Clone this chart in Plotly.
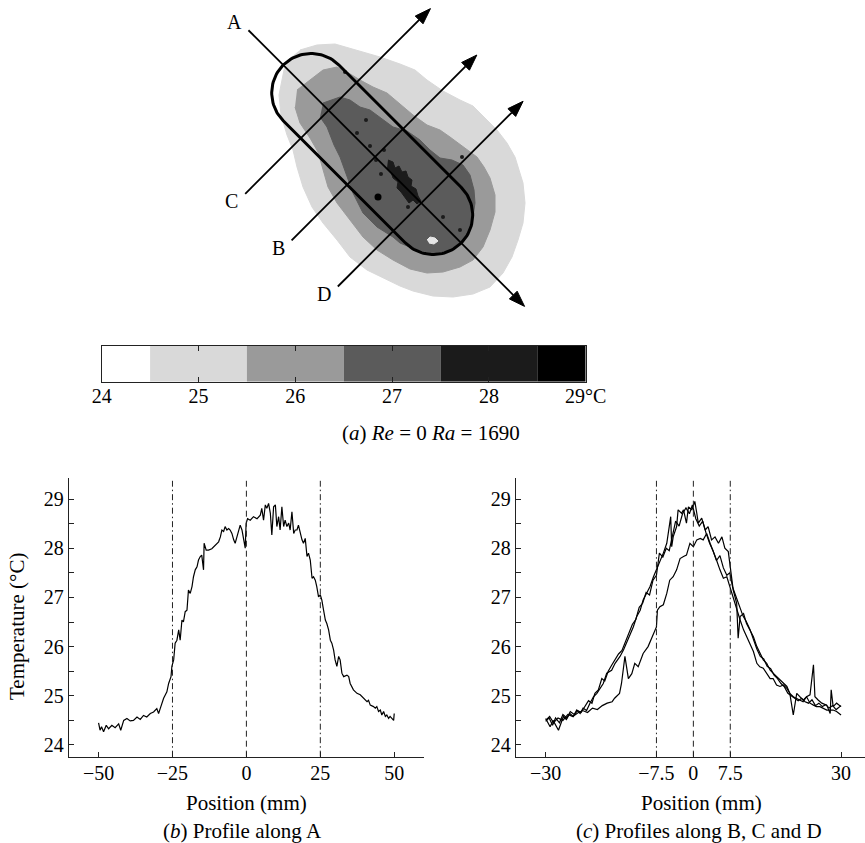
import numpy as np
import plotly.graph_objects as go

W, H = 865, 843
SERIF = "Liberation Serif, Times New Roman, serif"

# ---------------- data ----------------
# colour scale of the temperature map (deg C)
COLORBAR_LEVELS = [24, 24.5, 25.5, 26.5, 27.5, 28.5, 29]
COLORBAR_COLORS = ["#ffffff", "#d9d9d9", "#9a9a9a", "#5b5b5b", "#1b1b1b", "#000000"]
COLORBAR_TICKS = [24, 25, 26, 27, 28, 29]
COLORBAR_TICKTEXT = ["24", "25", "26", "27", "28", "29°C"]

# temperature-map level outlines (map units, y pointing down)
LEVEL25_X = [300, 317, 335, 360, 380, 400, 415, 427, 443, 460, 473, 484, 497, 507, 515, 519, 523, 525,
             523, 518, 512, 503, 490, 473, 453, 433, 413, 400, 387, 367, 350, 337, 323, 312, 303, 297,
             293, 287, 281, 279, 284, 290]
LEVEL25_Y = [50, 45, 44, 51, 57, 64, 70, 80, 91, 100, 106, 117, 130, 143, 157, 170, 183, 203,
             223, 240, 257, 273, 287, 294, 297, 296, 291, 286, 280, 270, 257, 240, 223, 207, 187, 167,
             150, 135, 115, 95, 70, 58]
LEVEL26_X = [297, 310, 323, 337, 347, 360, 373, 387, 400, 413, 427, 440, 450, 463, 477, 484, 490, 495,
             495, 490, 483, 473, 460, 443, 427, 410, 393, 377, 363, 350, 337, 328, 323, 318, 310, 300, 295]
LEVEL26_Y = [90, 80, 70, 67, 72, 80, 87, 93, 104, 115, 125, 130, 137, 147, 157, 167, 178, 195,
             212, 230, 247, 260, 267, 272, 273, 269, 260, 250, 237, 220, 203, 187, 170, 152, 138, 123, 107]
LEVEL27_X = [323, 340, 350, 360, 370, 380, 393, 407, 420, 430, 440, 452, 463, 470, 474, 475, 472, 463,
             450, 433, 417, 400, 393, 377, 363, 353, 347, 340, 334, 327, 320]
LEVEL27_Y = [103, 97, 100, 107, 110, 117, 127, 131, 140, 150, 158, 160, 165, 175, 190, 203, 223, 240,
             250, 253, 250, 243, 237, 227, 213, 193, 177, 157, 145, 127, 117]
LEVEL28_X = [388, 393, 395, 399, 402, 406, 408, 412, 411, 416, 418, 421, 417, 413, 409, 405, 401, 397,
             398, 393, 391, 387]
LEVEL28_Y = [160, 162, 168, 166, 172, 171, 177, 180, 186, 189, 196, 201, 204, 200, 203, 197, 192, 188,
             182, 178, 172, 168]
COOL_SPOT_X = [427, 430, 435, 438, 434, 429]
COOL_SPOT_Y = [240, 237, 238, 241, 244, 243]
HOT_SPECKS_X = [357, 370, 345, 462, 460, 443, 408, 384, 366, 381, 376]
HOT_SPECKS_Y = [133, 146, 72, 157, 230, 217, 207, 150, 120, 174, 160]
HOT_DOT_X = [378]
HOT_DOT_Y = [197]

# heater (stadium) and measurement lines, map units
HEATER_CENTER = (372.2, 154.0)
HEATER_HALF_LENGTH = 86.4     # centre to cap centre
HEATER_RADIUS = 39.4
AXIS_ANGLE_DEG = 45.0         # direction of line A (down-right)
LINE_A_RANGE = (-175.0, 215.5)
CROSS_LINES = {"C": -61.6, "B": 4.0, "D": 69.4}   # position along A
CROSS_RANGE = (-118.0, 144.0)

# (b) profile along A
PROFILE_A_X = [-50.0, -49.5, -49.0, -48.3, -47.4, -46.6, -45.5, -44.4, -43.2, -42.5, -41.5, -40.4,
               -39.3, -38.2, -37.0, -35.9, -34.8, -33.7, -32.5, -31.4, -30.3, -29.7, -29.1, -28.0,
               -26.9, -26.3, -25.5, -25.2, -24.6, -24.1, -23.5, -22.9, -22.4, -21.8, -21.3, -20.7,
               -20.1, -19.6, -19.0, -18.4, -17.9, -17.3, -16.7, -16.2, -15.6, -15.1, -14.5, -14.3,
               -13.6, -12.8, -11.7, -10.5, -9.4, -8.8, -8.3, -7.7, -7.2, -6.6, -6.0, -5.5, -4.9,
               -4.3, -3.8, -3.2, -2.6, -2.1, -1.5, -1.0, -0.4, -0.1, 0.4, 1.3, 2.4, 3.6, 4.7, 5.2,
               5.8, 6.4, 6.9, 7.5, 8.1, 8.6, 9.2, 9.8, 10.3, 10.9, 11.4, 12.0, 12.6, 13.1, 13.7,
               14.3, 14.8, 15.4, 16.0, 16.5, 17.1, 17.6, 18.2, 18.8, 19.3, 19.9, 20.5, 21.0, 21.6,
               22.2, 22.7, 23.3, 23.8, 24.4, 25.0, 25.5, 26.1, 26.7, 27.2, 27.8, 28.4, 28.9, 29.5,
               30.0, 30.6, 31.2, 31.7, 32.3, 32.9, 34.0, 34.6, 35.1, 36.2, 37.4, 38.5, 39.6, 40.8,
               41.3, 41.9, 43.0, 43.6, 44.1, 44.7, 45.3, 45.8, 46.4, 47.0, 47.5, 48.1, 48.6, 49.2,
               49.8, 50.0]
PROFILE_A_T = [24.45, 24.30, 24.37, 24.27, 24.40, 24.33, 24.40, 24.35, 24.43, 24.30, 24.50, 24.54,
               24.49, 24.50, 24.57, 24.52, 24.60, 24.57, 24.64, 24.67, 24.74, 24.64, 24.75, 24.95,
               25.08, 25.25, 25.39, 25.60, 25.73, 26.07, 26.13, 26.34, 26.13, 26.54, 26.50, 26.71,
               26.74, 27.15, 27.08, 27.22, 27.42, 27.56, 27.62, 27.76, 27.83, 27.86, 27.56, 28.10,
               27.96, 27.96, 27.99, 28.06, 28.13, 28.23, 28.37, 28.34, 28.44, 28.37, 28.40, 28.37, 28.30,
               28.17, 28.10, 28.23, 28.40, 28.47, 28.37, 28.17, 28.00, 28.50, 28.60, 28.57, 28.64, 28.60, 28.67, 28.81,
               28.57, 28.88, 28.81, 28.91, 28.71, 28.27, 28.84, 28.88, 28.44, 28.64, 28.37, 28.84, 28.44, 28.57, 28.44,
               28.51, 28.37, 28.74, 28.30, 28.37, 28.37, 28.47, 28.30, 28.17, 28.10, 28.20, 27.83, 27.90, 27.76,
               27.39, 27.42, 27.35, 27.22, 27.01, 27.05, 26.95, 26.74, 26.54, 26.47, 26.34, 26.13, 26.07, 25.93,
               25.73, 25.60, 25.80, 25.73, 25.46, 25.39, 25.42, 25.39, 25.25, 25.12, 25.05, 25.02, 24.95, 24.88,
               24.91, 24.81, 24.78, 24.75, 24.78, 24.68, 24.71, 24.61, 24.68, 24.58, 24.61, 24.54, 24.58, 24.54,
               24.50, 24.64]

# (c) profiles along B, C and D
PROFILE_B_X = [-30.0, -29.5, -29.1, -28.5, -27.4, -26.4, -25.8, -25.1, -24.4, -23.7, -23.0, -22.4,
               -21.7, -21.0, -20.3, -19.6, -19.0, -18.3, -17.6, -16.6, -15.9, -14.9, -14.2, -13.6,
               -12.9, -12.2, -11.5, -10.8, -10.2, -9.5, -8.8, -8.1, -7.5, -6.8, -6.1, -5.4, -4.6,
               -4.4, -4.1, -3.4, -3.1, -2.4, -2.0, -1.4, -1.0, -0.3, 0.3, 0.7, 1.0, 1.7, 2.4, 3.0,
               3.7, 4.4, 5.1, 5.8, 6.4, 7.1, 7.4, 8.1, 8.8, 9.1, 9.5, 10.2, 10.8, 11.5, 12.2, 12.9,
               13.5, 14.2, 14.9, 15.6, 16.2, 16.9, 17.6, 18.3, 19.0, 19.6, 20.3, 21.0, 21.7, 22.3,
               23.0, 23.7, 24.4, 24.7, 25.4, 26.1, 27.1, 27.8, 28.0, 28.4, 29.1, 30.0]
PROFILE_B_T = [24.54, 24.45, 24.37, 24.50, 24.30, 24.58, 24.52, 24.64, 24.58, 24.71, 24.64, 24.75,
               24.70, 24.85, 24.98, 25.05, 25.15, 25.25, 25.46, 25.52, 25.66, 25.80, 25.93, 26.07,
               26.27, 26.40, 26.61, 26.74, 26.95, 27.08, 27.22, 27.42, 27.56, 27.76, 27.90, 28.10, 28.64,
               28.03, 28.23, 28.44, 28.78, 28.71, 28.78, 28.51, 28.84, 28.78, 28.95, 28.71, 28.51, 28.61, 28.37, 28.44,
               28.17, 28.23, 28.10, 28.23, 28.00, 27.93, 27.69, 27.15, 26.88, 26.17, 26.61, 26.67, 26.47, 26.34, 26.20, 26.00,
               25.86, 25.73, 25.66, 25.52, 25.46, 25.39, 25.32, 25.25, 25.19, 25.05, 24.61, 25.05, 24.98, 24.91,
               24.98, 25.02, 25.63, 24.98, 24.91, 24.85, 24.81, 24.64, 25.12, 24.78, 24.85, 24.78]
PROFILE_C_X = [-30.0, -29.3, -28.6, -28.0, -27.2, -26.5, -25.7, -25.0, -24.2, -23.5, -22.8, -22.0,
               -21.3, -20.6, -20.0, -19.3, -18.6, -18.0, -17.3, -16.6, -15.9, -15.2, -14.5, -13.8,
               -13.1, -12.4, -11.7, -11.0, -10.3, -9.6, -8.9, -8.2, -7.5, -6.9, -6.2, -5.5, -4.9,
               -4.2, -3.6, -2.9, -2.2, -1.5, -0.8, -0.2, 0.5, 1.2, 1.9, 2.6, 3.3, 4.0, 4.7, 5.4,
               6.1, 6.8, 7.4, 8.0, 8.7, 9.4, 10.1, 10.8, 11.5, 12.2, 12.9, 13.6, 14.3, 15.0, 15.7,
               16.4, 17.1, 17.8, 18.5, 19.2, 19.9, 20.6, 21.3, 22.0, 22.7, 23.4, 24.1, 24.8, 25.5,
               26.2, 26.9, 27.6, 28.3, 29.0, 30.0]
PROFILE_C_T = [24.48, 24.55, 24.40, 24.55, 24.45, 24.62, 24.55, 24.68, 24.62, 24.70, 24.66, 24.80,
               24.90, 24.85, 25.05, 25.12, 25.35, 25.30, 25.50, 25.62, 25.75, 25.85, 25.92, 26.10,
               26.25, 26.45, 26.55, 26.80, 26.88, 27.10, 27.05, 27.35, 27.45, 27.90, 27.82, 28.00, 27.95,
               28.30, 28.55, 28.45, 28.70, 28.82, 28.70, 28.88, 28.60, 28.45, 28.55, 28.30, 28.10, 27.95, 27.75, 27.85,
               27.60, 27.45, 27.50, 27.20, 27.00, 26.80, 26.62, 26.50, 26.35, 26.15, 25.95, 25.80, 25.75, 25.60, 25.55,
               25.42, 25.35, 25.25, 25.18, 25.05, 25.00, 24.95, 24.90, 24.95, 24.88, 24.85, 24.92, 24.80, 24.85,
               24.78, 24.82, 24.75, 24.80, 24.72, 24.80]
PROFILE_D_X = [-30.0, -29.2, -28.4, -27.5, -26.5, -25.5, -24.5, -23.5, -22.5, -21.5, -20.5, -19.5,
               -18.5, -17.5, -16.5, -16.0, -15.0, -14.6, -13.9, -13.2, -12.5, -11.9, -11.2, -10.2,
               -9.2, -8.1, -7.5, -7.3, -6.8, -6.1, -5.4, -4.8, -4.1, -3.4, -2.7, -2.0, -1.4, -0.7,
               0.0, 0.7, 1.4, 2.0, 2.7, 3.4, 4.1, 4.7, 5.4, 6.1, 6.8, 7.4, 8.1, 8.8, 9.5, 10.2, 10.8,
               11.5, 12.2, 12.9, 13.5, 14.2, 14.9, 15.6, 16.2, 16.9, 17.6, 18.3, 19.0, 19.6, 20.3,
               21.0, 21.7, 22.3, 23.0, 23.7, 24.4, 25.0, 25.7, 26.4, 27.1, 27.8, 28.4, 29.1, 30.0]
PROFILE_D_T = [24.50, 24.58, 24.45, 24.55, 24.50, 24.62, 24.58, 24.65, 24.70, 24.66, 24.75, 24.72,
               24.80, 24.85, 24.88, 24.95, 25.05, 25.25, 25.80, 25.35, 25.45, 25.66, 25.59, 25.86,
               26.00, 26.27, 26.40, 26.74, 26.81, 26.85, 27.08, 27.35, 27.42, 27.56, 27.79, 27.83, 27.86, 28.10,
               28.03, 28.17, 28.20, 28.17, 28.30, 28.10, 27.93, 27.76, 27.56, 27.39, 27.42, 27.22, 27.01, 26.74, 26.54, 26.34, 26.20,
               26.07, 25.90, 25.66, 25.59, 25.56, 25.46, 25.35, 25.35, 25.22, 25.19, 25.22, 25.15, 25.05, 24.98,
               24.95, 24.91, 24.88, 24.98, 24.85, 24.81, 24.78, 24.78, 24.75, 24.71, 24.71, 24.71, 24.68, 24.61]

TICKS_A = [-50, -25, 0, 25, 50]
TICKS_BCD = [-30, -7.5, 0, 7.5, 30]
TICKTEXT_BCD = ["\u221230", "\u22127.5", "0", "7.5", "30"]
TICKTEXT_A = ["\u221250", "\u221225", "0", "25", "50"]
GUIDES_A = [(-25, "dashdot"), (0, "dash"), (25, "dashdot")]
GUIDES_BCD = [(-7.5, "dashdot"), (0, "dash"), (7.5, "dashdot")]
T_TICKS = [24, 25, 26, 27, 28, 29]

# ---------------- layout helpers ----------------
def pxx(x):
    return x / W


def pxy(y):
    return 1 - y / H


Y_DOM = [pxy(756.7), pxy(477.7)]
Y_RANGE = [23.762, 29.433]
GUIDE_TOP = 29.37
DASH = {"dash": "6px,4px", "dashdot": "6px,3px,1.5px,3px"}

fig = go.Figure()

# ---------------- map ----------------
MAPX, MAPY = "x3", "y3"
for xs, ys, col in [(LEVEL25_X, LEVEL25_Y, COLORBAR_COLORS[1]),
                    (LEVEL26_X, LEVEL26_Y, COLORBAR_COLORS[2]),
                    (LEVEL27_X, LEVEL27_Y, COLORBAR_COLORS[3]),
                    (LEVEL28_X, LEVEL28_Y, COLORBAR_COLORS[4]),
                    (COOL_SPOT_X, COOL_SPOT_Y, "#e6e6e6")]:
    fig.add_trace(go.Scatter(x=xs, y=ys, fill="toself", fillcolor=col, mode="lines",
                             line=dict(width=1, color=col), xaxis=MAPX, yaxis=MAPY,
                             hoverinfo="skip"))
fig.add_trace(go.Scatter(x=HOT_SPECKS_X, y=HOT_SPECKS_Y, mode="markers",
                         marker=dict(size=4, color=COLORBAR_COLORS[4]), xaxis=MAPX, yaxis=MAPY,
                         hoverinfo="skip"))
fig.add_trace(go.Scatter(x=HOT_DOT_X, y=HOT_DOT_Y, mode="markers",
                         marker=dict(size=7, color="#000000"), xaxis=MAPX, yaxis=MAPY,
                         hoverinfo="skip"))

ang = np.deg2rad(AXIS_ANGLE_DEG)
u = np.array([np.cos(ang), np.sin(ang)])        # along A (down-right on screen)
w = np.array([np.sin(ang), -np.cos(ang)])       # across (up-right on screen)
c = np.array(HEATER_CENTER)


def mp(s, t):
    return c + s * u + t * w


# stadium outline
th1 = np.linspace(-np.pi / 2, np.pi / 2, 60)
th2 = np.linspace(np.pi / 2, 3 * np.pi / 2, 60)
c2 = c + HEATER_HALF_LENGTH * u
c1 = c - HEATER_HALF_LENGTH * u
pts = [c2 + HEATER_RADIUS * (np.cos(t) * u + np.sin(t) * (-w)) for t in th1]
pts += [c1 + HEATER_RADIUS * (np.cos(t) * u + np.sin(t) * (-w)) for t in th2]
pts.append(pts[0])
pts = np.array(pts)
fig.add_trace(go.Scatter(x=pts[:, 0], y=pts[:, 1], mode="lines", line=dict(color="black", width=3),
                         xaxis=MAPX, yaxis=MAPY, hoverinfo="skip"))


def arrow(p0, p1, label, loff):
    d = (p1 - p0) / np.linalg.norm(p1 - p0)
    n = np.array([-d[1], d[0]])
    L, hw = 16.0, 5.5
    base = p1 - L * d
    fig.add_trace(go.Scatter(x=[p0[0], base[0]], y=[p0[1], base[1]], mode="lines",
                             line=dict(color="black", width=1.8), xaxis=MAPX, yaxis=MAPY,
                             hoverinfo="skip"))
    tri = np.array([p1, base + hw * n, base - hw * n, p1])
    fig.add_trace(go.Scatter(x=tri[:, 0], y=tri[:, 1], mode="lines", fill="toself",
                             fillcolor="black", line=dict(color="black", width=1),
                             xaxis=MAPX, yaxis=MAPY, hoverinfo="skip"))
    fig.add_annotation(x=p0[0] + loff[0], y=p0[1] + loff[1], xref=MAPX, yref=MAPY, text=label,
                       showarrow=False, font=dict(family=SERIF, size=20, color="black"))


arrow(mp(LINE_A_RANGE[0], 0), mp(LINE_A_RANGE[1], 0), "A", (-13.5, -8.5))
for name, s in CROSS_LINES.items():
    arrow(mp(s, CROSS_RANGE[0]), mp(s, CROSS_RANGE[1]), name, (-13.5, 7.5))

# ---------------- colour bar ----------------
fig.add_trace(go.Bar(x=list(np.diff(COLORBAR_LEVELS)), base=COLORBAR_LEVELS[:-1],
                     y=[0.5] * (len(COLORBAR_LEVELS) - 1), orientation="h", width=1,
                     marker=dict(color=COLORBAR_COLORS, line=dict(width=0)),
                     xaxis="x4", yaxis="y4", hoverinfo="skip"))

# ---------------- profiles ----------------
LINE = dict(color="black", width=1.2)
fig.add_trace(go.Scatter(x=PROFILE_A_X, y=PROFILE_A_T, mode="lines", line=LINE,
                         xaxis="x", yaxis="y", name="A"))
for xs, ys, nm in [(PROFILE_B_X, PROFILE_B_T, "B"), (PROFILE_C_X, PROFILE_C_T, "C"),
                   (PROFILE_D_X, PROFILE_D_T, "D")]:
    fig.add_trace(go.Scatter(x=xs, y=ys, mode="lines", line=LINE, xaxis="x2", yaxis="y2", name=nm))

for xr, yr, guides in [("x", "y", GUIDES_A), ("x2", "y2", GUIDES_BCD)]:
    for gx, style in guides:
        fig.add_shape(type="line", xref=xr, yref=yr, x0=gx, x1=gx, y0=Y_RANGE[0], y1=GUIDE_TOP,
                      line=dict(color="#222222", width=1, dash=DASH[style]), layer="above")

TICKFONT = dict(family=SERIF, size=20, color="black")
common_y = dict(domain=Y_DOM, range=Y_RANGE, tickvals=T_TICKS, ticks="inside", ticklen=5,
                tickcolor="#222", showline=True, linecolor="#222", linewidth=1.3,
                showgrid=False, zeroline=False, tickfont=TICKFONT, automargin=False,
                minor=dict(dtick=0.5, tick0=24, ticks="inside", ticklen=5, tickcolor="#222",
                           showgrid=False))
common_x = dict(ticks="inside", ticklen=5, tickcolor="#222", showline=True, linecolor="#222",
                linewidth=1.3, showgrid=False, zeroline=False, tickfont=TICKFONT, automargin=False,
                ticklabelstandoff=-2)

fig.update_layout(
    template="none",
    width=W, height=H, autosize=False, margin=dict(l=0, r=0, t=0, b=0, pad=0),
    paper_bgcolor="white", plot_bgcolor="rgba(0,0,0,0)", showlegend=False,
    xaxis=dict(domain=[pxx(69), pxx(423.8)], range=[-60, 60], tickvals=TICKS_A,
               ticktext=TICKTEXT_A, anchor="y", **common_x),
    yaxis=dict(anchor="x", **common_y),
    xaxis2=dict(domain=[pxx(516), 1.0], range=[-36.03, 34.87], tickvals=TICKS_BCD,
                ticktext=TICKTEXT_BCD, anchor="y2", **common_x),
    yaxis2=dict(anchor="x2", **common_y),
    xaxis3=dict(domain=[pxx(200), pxx(560)], range=[200, 560], visible=False, anchor="y3",
                automargin=False),
    yaxis3=dict(domain=[pxy(310), pxy(0)], range=[310, 0], visible=False, anchor="x3",
                automargin=False),
    xaxis4=dict(domain=[pxx(101.7), pxx(585.7)], range=[24, 29], tickvals=COLORBAR_TICKS,
                ticktext=COLORBAR_TICKTEXT, ticks="inside", ticklen=5, tickcolor="#222",
                showline=True, mirror="ticks", linecolor="#222", linewidth=1, showgrid=False,
                zeroline=False, tickfont=dict(family=SERIF, size=20, color="black"),
                anchor="y4", ticklabelstandoff=-4, automargin=False),
    yaxis4=dict(domain=[pxy(381.7), pxy(345.7)], range=[0, 1], showline=True, mirror=True,
                linecolor="#222", linewidth=1, showticklabels=False, ticks="", showgrid=False,
                zeroline=False, anchor="x4", automargin=False),
)

TXT = dict(family=SERIF, size=21, color="black")
for text, x, y, ang_ in [
    ("(<i>a</i>) <i>Re</i> = 0 <i>Ra</i> = 1690", 431, 433, 0),
    ("Temperature (°C)", 17, 627, -90),
    ("Position (mm)", 246, 803, 0),
    ("Position (mm)", 701, 803, 0),
    ("(<i>b</i>) Profile along A", 242, 831, 0),
    ("(<i>c</i>) Profiles along B, C and D", 698.5, 831, 0),
]:
    fig.add_annotation(x=pxx(x), y=pxy(y), xref="paper", yref="paper", text=text, showarrow=False,
                       textangle=ang_, font=TXT, xanchor="center", yanchor="middle")

fig.write_html("out.html", config={"displayModeBar": False},
               post_script="document.body.style.margin='0';"
               "document.body.style.overflow='hidden';")
